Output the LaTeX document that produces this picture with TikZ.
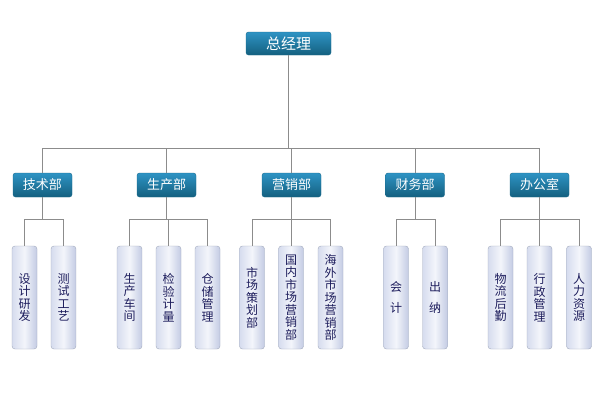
\documentclass[tikz,border=0pt]{standalone}
\usepackage{fontspec}
\newfontfamily\cjk{Noto Sans CJK SC}
\definecolor{boxtop}{HTML}{2E93C4}
\definecolor{boxbot}{HTML}{14607F}
\definecolor{boxedge}{HTML}{1A6A8C}
\definecolor{subl}{HTML}{D6DCEE}
\definecolor{subm}{HTML}{F3F5FB}
\definecolor{subr}{HTML}{C3CBE3}
\definecolor{subedge}{HTML}{A3ABBE}
\definecolor{subtext}{HTML}{1C1C5C}
\definecolor{wire}{HTML}{8C8C8C}
\begin{document}
\begin{tikzpicture}[x=1pt,y=-1pt,
  bluebox/.style={draw=boxedge, rounded corners=2.5pt, top color=boxtop, bottom color=boxbot,
    text=white, font=\cjk\fontsize{13}{15}\selectfont, inner sep=0pt},
  topbox/.style={bluebox, minimum width=85pt, minimum height=23pt, font=\cjk\fontsize{15}{17}\selectfont},
  deptbox/.style={bluebox, minimum width=59pt, minimum height=24pt},
  subbox/.style={draw=subedge, rounded corners=3pt, left color=subl, right color=subr, middle color=subm,
    text=subtext, minimum width=25pt, minimum height=103pt, inner sep=0pt, align=center,
    font=\cjk\fontsize{12}{12.5}\selectfont},
  wirestyle/.style={draw=wire, line width=0.8pt}]
\useasboundingbox (0,0) rectangle (600,400);
\fill[white] (0,0) rectangle (600,400);

\node[topbox] (gm) at (288.5,43.5) {总经理};

\node[deptbox] (d1) at (42.5,185) {技术部};
\node[deptbox] (d2) at (166.5,185) {生产部};
\node[deptbox] (d3) at (291.5,185) {营销部};
\node[deptbox] (d4) at (415,185) {财务部};
\node[deptbox] (d5) at (539.5,185) {办公室};

\node[subbox] (s11) at (24.5,297.5) {设\\计\\研\\发};
\node[subbox] (s12) at (63.5,297.5) {测\\试\\工\\艺};
\node[subbox] (s21) at (129.5,297.5) {生\\产\\车\\间};
\node[subbox] (s22) at (168.5,297.5) {检\\验\\计\\量};
\node[subbox] (s23) at (207.5,297.5) {仓\\储\\管\\理};
\node[subbox] (s31) at (252,297.5) {市\\场\\策\\划\\部};
\node[subbox] (s32) at (291,297.5) {国\\内\\市\\场\\营\\销\\部};
\node[subbox] (s33) at (330.5,297.5) {海\\外\\市\\场\\营\\销\\部};
\node[subbox] (s41) at (396,297.5) {会\\[8pt]计};
\node[subbox] (s42) at (435,297.5) {出\\[8pt]纳};
\node[subbox] (s51) at (500.5,297.5) {物\\流\\后\\勤};
\node[subbox] (s52) at (539.5,297.5) {行\\政\\管\\理};
\node[subbox] (s53) at (579,297.5) {人\\力\\资\\源};

\coordinate (bus) at (0,148.5);
\coordinate (sbus) at (0,219.5);

\draw[wirestyle] (gm.south) -- (gm.south |- bus);
\draw[wirestyle] (d1.north) -- (d1.north |- bus) -- (d5.north |- bus) -- (d5.north);
\foreach \d in {d2,d3,d4} \draw[wirestyle] (\d.north) -- (\d.north |- bus);

\foreach \d/\a/\b in {d1/s11/s12, d2/s21/s23, d3/s31/s33, d4/s41/s42, d5/s51/s53} {
  \draw[wirestyle] (\d.south) -- (\d.south |- sbus);
  \draw[wirestyle] (\a.north) -- (\a.north |- sbus) -- (\b.north |- sbus) -- (\b.north);
}
\foreach \s in {s22,s32,s52} \draw[wirestyle] (\s.north) -- (\s.north |- sbus);
\end{tikzpicture}
\end{document}
